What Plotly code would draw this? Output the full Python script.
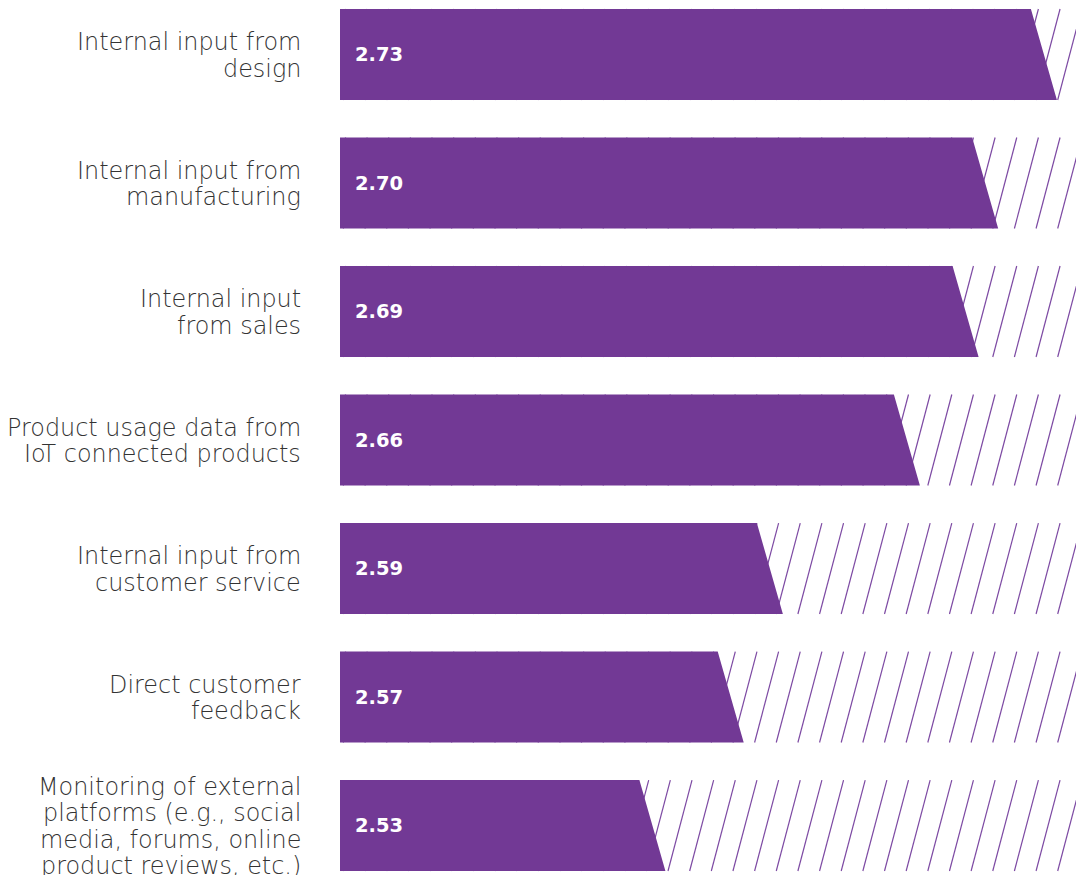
import plotly.graph_objects as go

# Survey results: importance rating of each input source
categories = [
    "Internal input from<br>design",
    "Internal input from<br>manufacturing",
    "Internal input<br>from sales",
    "Product usage data from<br>IoT connected products",
    "Internal input from<br>customer service",
    "Direct customer<br>feedback",
    "Monitoring of external<br>platforms (e.g., social<br>media, forums, online<br>product reviews, etc.)",
]
values = [2.73, 2.70, 2.69, 2.66, 2.59, 2.57, 2.53]
value_labels = ["2.73", "2.70", "2.69", "2.66", "2.59", "2.57", "2.53"]

PURPLE = "#723995"
LABEL_COLOR = "#333333"

W, H = 1076, 875
LEFT = 340
X_MIN, X_MAX = 2.3704, 2.7464
PX = (W - LEFT) / (X_MAX - X_MIN)          # pixels per data unit
Y_RANGE = [6.385, -0.4241]                  # reversed, one unit per row
HALF = 0.354                                # half bar thickness (rows)
SLANT = 13 / PX                             # half width of the slanted bar end
HATCH_STEP = 21.65 / PX
HATCH_LEAN = 24 / PX
HATCH_START = X_MIN + 5.6 / PX
LINE_PITCH = 26.5                           # label line spacing in pixels

fig = go.Figure()

# Diagonal hatching across each row (sits behind the bars)
hx, hy = [], []
for i in range(len(values)):
    t = HATCH_START
    while t - HATCH_LEAN < X_MAX:
        hx += [t, t - HATCH_LEAN, None]
        hy += [i - HALF, i + HALF, None]
        t += HATCH_STEP
fig.add_trace(go.Scatter(
    x=hx, y=hy, mode="lines",
    line=dict(color="#7d4aa3", width=1.2),
    hoverinfo="skip", showlegend=False,
))

# Bars with a slanted right end
bx, by = [], []
for i, v in enumerate(values):
    bx += [X_MIN, v - SLANT, v + SLANT, X_MIN, X_MIN, None]
    by += [i - HALF, i - HALF, i + HALF, i + HALF, i - HALF, None]
fig.add_trace(go.Scatter(
    x=bx, y=by, mode="lines", fill="toself",
    fillcolor=PURPLE, line=dict(color=PURPLE, width=0),
    hoverinfo="skip", showlegend=False,
))

annotations = []
for i, (cat, lab) in enumerate(zip(categories, value_labels)):
    lines = cat.split("<br>")
    n = len(lines)
    for k, line in enumerate(lines):
        annotations.append(dict(
            x=0, xref="paper", y=i, yref="y",
            text=line, showarrow=False,
            xanchor="right", yanchor="middle", align="right",
            xshift=-37, yshift=-(k - (n - 1) / 2) * LINE_PITCH - 1,
            font=dict(family="DejaVu Sans", size=23.9, color=LABEL_COLOR, weight=200),
        ))
    annotations.append(dict(
        x=X_MIN, xref="x", y=i, yref="y",
        text=f"<b>{lab}</b>", showarrow=False,
        xanchor="left", yanchor="middle", xshift=13,
        font=dict(family="DejaVu Sans", size=19.5, color="white"),
    ))

fig.update_layout(
    width=W, height=H,
    margin=dict(l=LEFT, r=0, t=0, b=0),
    paper_bgcolor="white", plot_bgcolor="white",
    xaxis=dict(range=[X_MIN, X_MAX], visible=False, fixedrange=True),
    yaxis=dict(range=Y_RANGE, visible=False, fixedrange=True),
    annotations=annotations,
    showlegend=False,
)

fig.write_html("out.html")
